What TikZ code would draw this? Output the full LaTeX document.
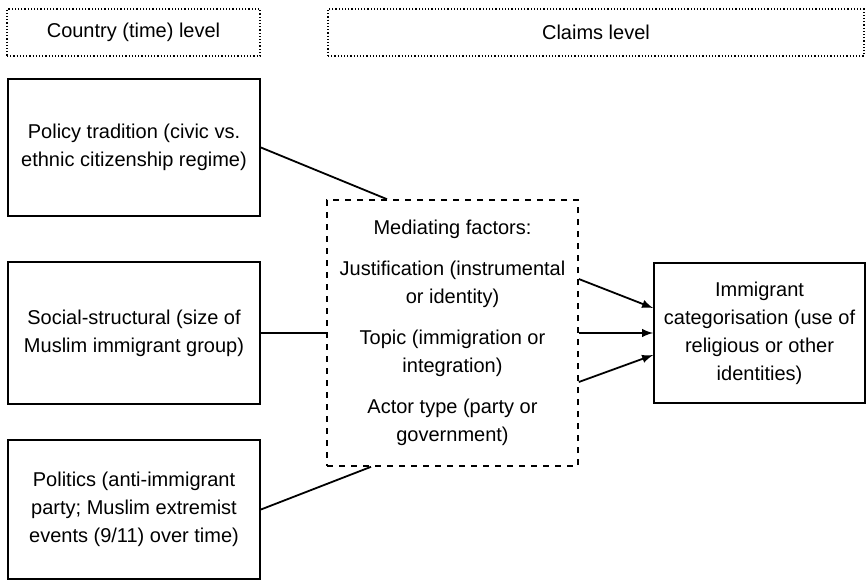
\documentclass[tikz,border=0pt]{standalone}
\usepackage{fontspec}
\setmainfont{Liberation Sans}
\usetikzlibrary{arrows, positioning}

\begin{document}
\begin{tikzpicture}[x = 0.5pt, y = -0.5pt, >=latex,
	every node/.append style = {font=\fontsize{10}{14}\selectfont, align=center, inner sep=0pt},
	level/.style = {draw, densely dotted, line width=0.6pt, minimum height=23.5pt},
	factor/.style = {draw, line width=0.9pt, minimum width=126pt},
	link/.style = {line width=0.9pt}]
	\useasboundingbox (0,0) rectangle (866,580);

	\node[level, minimum width=126.5pt] (cntry) at (133.5,32.5) {Country (time) level};
	\node[level, minimum width=268pt] (claims) at (596,32.5) {Claims level};

	\node[factor, minimum height=68.5pt] (pol) at (134,147.5) {Policy tradition (civic vs.\\ ethnic citizenship regime)};
	\node[factor, minimum height=71pt] (soc) at (134,333) {Social-structural (size of\\ Muslim immigrant group)};
	\node[factor, minimum height=69.5pt] (evt) at (134,509.5) {Politics (anti-immigrant\\ party; Muslim extremist\\ events (9/11) over time)};

	\node[draw, dashed, line width=0.8pt, minimum width=125.5pt, minimum height=133pt] (med) at (452.5,333)
		{Mediating factors:\\[6.5pt] Justification (instrumental\\ or identity)\\[6.5pt] Topic (immigration or\\ integration)\\[6.5pt] Actor type (party or\\ government)};

	\node[draw, line width=0.9pt, minimum width=105.5pt, minimum height=70pt] (imm) at (759.5,333)
		{Immigrant\\ categorisation (use of\\ religious or other\\ identities)};

	\draw[link] (pol.east) -- ([xshift=-32.75pt]med.north);
	\draw[link] (soc.east) -- (med.west);
	\draw[link] (evt.east) -- ([xshift=-40.75pt]med.south);

	\draw[link, ->] ([yshift=27pt]med.east) -- ([yshift=12.5pt]imm.west);
	\draw[link, ->] (med.east) -- (imm.west);
	\draw[link, ->] ([yshift=-24.5pt]med.east) -- ([yshift=-11pt]imm.west);
\end{tikzpicture}
\end{document}
